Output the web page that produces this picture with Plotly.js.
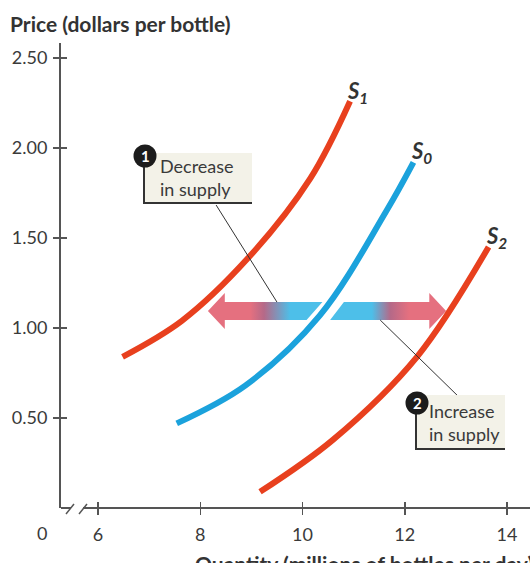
<!DOCTYPE html>
<html>
<head>
<meta charset="utf-8">
<script src="https://cdn.plot.ly/plotly-3.0.1.min.js"></script>
<style>html,body{margin:0;padding:0;background:#fff;}#chart{width:530px;height:563px;}</style>
</head>
<body>
<div id="chart"></div>
<script>
// ---- data ----
const s1Quantity = [6.48, 7.64, 8.94, 10.15, 10.93];
const s1Price    = [0.84, 1.04, 1.39, 1.83, 2.26];
const s0Quantity = [7.54, 8.88, 10.34, 11.64, 12.17];
const s0Price    = [0.47, 0.68, 1.07, 1.65, 1.92];
const s2Quantity = [9.17, 10.60, 12.24, 13.64];
const s2Price    = [0.09, 0.38, 0.84, 1.45];
const xTickVals  = [6, 8, 10, 12, 14];
const xTickText  = ['6', '8', '10', '12', '14'];
const yTickVals  = [0.5, 1.0, 1.5, 2.0, 2.5];
const yTickText  = ['0.50', '1.00', '1.50', '2.00', '2.50'];
const curveLabels = ['S<sub>1</sub>', 'S<sub>0</sub>', 'S<sub>2</sub>'];
const arrowPrice = 1.094;
// decrease arrow: tip, shaft end (top), shaft end (bottom)
const decreaseArrowX = [8.15, 10.39, 10.08];
// increase arrow: shaft start (top), shaft start (bottom), tip
const increaseArrowX = [10.81, 10.54, 12.81];
const decreaseLeader = {x: [8.31, 9.50], y: [1.683, 1.144]};
const increaseLeader = {x: [11.52, 13.12], y: [1.044, 0.60]};

// ---- styling ----
const W = 530, H = 563;
const M = {l: 61, r: 0, t: 43, b: 55};
const PW = W - M.l - M.r, PH = H - M.t - M.b;
const xRange = [5.276, 14.45];
const yRange = [0, 2.583];
const px = p => (p - M.l) / PW;
const py = p => (H - M.b - p) / PH;
const RED = '#e8401e', BLUE = '#1ba2dc', TXT = '#3a3a3a', AX = '#555555';
const FONT = 'Lato, "Open Sans", sans-serif';
const headLen = 0.33, headHalf = 0.1, shaftHalf = 0.05;
const PINK = '#e5707f', MAUVE = '#b56988', LBLUE = '#4dbfe9';

function curve(x, y, color) {
  return {x: x, y: y, type: 'scatter', mode: 'lines',
    line: {color: color, width: 6, shape: 'spline', smoothing: 1.0},
    hoverinfo: 'skip', showlegend: false};
}

const dTip = decreaseArrowX[0], dTop = decreaseArrowX[1], dBot = decreaseArrowX[2];
const decreaseArrow = {
  x: [dTip, dTip + headLen, dTip + headLen, dTop, dBot, dTip + headLen, dTip + headLen, dTip],
  y: [arrowPrice, arrowPrice + headHalf, arrowPrice + shaftHalf, arrowPrice + shaftHalf,
      arrowPrice - shaftHalf, arrowPrice - shaftHalf, arrowPrice - headHalf, arrowPrice],
  type: 'scatter', mode: 'lines', fill: 'toself', line: {width: 0},
  fillgradient: {type: 'horizontal', start: dTip, stop: dTop,
    colorscale: [[0, PINK], [0.37, PINK], [0.49, MAUVE], [0.72, LBLUE], [1, LBLUE]]},
  hoverinfo: 'skip', showlegend: false
};
const iTop = increaseArrowX[0], iBot = increaseArrowX[1], iTip = increaseArrowX[2];
const increaseArrow = {
  x: [iTop, iTip - headLen, iTip - headLen, iTip, iTip - headLen, iTip - headLen, iBot, iTop],
  y: [arrowPrice + shaftHalf, arrowPrice + shaftHalf, arrowPrice + headHalf, arrowPrice,
      arrowPrice - headHalf, arrowPrice - shaftHalf, arrowPrice - shaftHalf, arrowPrice + shaftHalf],
  type: 'scatter', mode: 'lines', fill: 'toself', line: {width: 0},
  fillgradient: {type: 'horizontal', start: iBot, stop: iTip,
    colorscale: [[0, LBLUE], [0.36, LBLUE], [0.52, MAUVE], [0.68, PINK], [1, PINK]]},
  hoverinfo: 'skip', showlegend: false
};

const dummy = {x: [xRange[0]], y: [yRange[0]], xaxis: 'x2', yaxis: 'y2', type: 'scatter',
  mode: 'markers', marker: {opacity: 0}, hoverinfo: 'skip', showlegend: false};

const data = [decreaseArrow, increaseArrow,
  curve(s1Quantity, s1Price, RED), curve(s0Quantity, s0Price, BLUE), curve(s2Quantity, s2Price, RED), dummy];

function pline(x0, y0, x1, y1, w, c) {
  return {type: 'line', xref: 'paper', yref: 'paper', x0: px(x0), y0: py(y0), x1: px(x1), y1: py(y1),
    line: {color: c || AX, width: w || 2}};
}
function prect(x0, y0, x1, y1, fill) {
  return {type: 'rect', xref: 'paper', yref: 'paper', x0: px(x0), y0: py(y0), x1: px(x1), y1: py(y1),
    fillcolor: fill, line: {width: 0}};
}
function pcircle(cx, cy, r) {
  return {type: 'circle', xref: 'paper', yref: 'paper', x0: px(cx - r), y0: py(cy - r), x1: px(cx + r), y1: py(cy + r),
    fillcolor: '#1c1c1c', line: {width: 0}};
}

const shapes = [
  // x axis with break
  pline(61, 508, 71, 508), pline(83, 508, 530, 508),
  pline(66, 514, 74, 504, 1.5), pline(79, 514, 87, 504, 1.5),
  // leader lines
  {type: 'line', xref: 'x', yref: 'y', x0: decreaseLeader.x[0], y0: decreaseLeader.y[0],
    x1: decreaseLeader.x[1], y1: decreaseLeader.y[1], line: {color: '#333', width: 1}},
  {type: 'line', xref: 'x', yref: 'y', x0: increaseLeader.x[0], y0: increaseLeader.y[0],
    x1: increaseLeader.x[1], y1: increaseLeader.y[1], line: {color: '#333', width: 1}},
  // callout boxes
  prect(144, 153, 252, 203, '#f3f2e8'),
  pline(144, 155, 144, 203, 2, '#333'), pline(143, 203, 252, 203, 2, '#333'),
  prect(416, 395, 505, 449, '#f3f2e8'),
  pline(416, 403, 416, 449, 2, '#333'), pline(415, 449, 505, 449, 2, '#333'),
  pcircle(145, 156, 11.5), pcircle(417, 403, 11.5)
];

function pann(text, x, y, opts) {
  return Object.assign({text: text, xref: 'paper', yref: 'paper', x: px(x), y: py(y), showarrow: false,
    font: {family: FONT, size: 18, color: TXT}, xanchor: 'left', yanchor: 'middle', align: 'left'}, opts || {});
}

const annotations = [
  pann('<b>Price (dollars per bottle)</b>', 8, 23, {font: {family: FONT, size: 21, color: '#333'}}),
  pann('<b>Quantity (millions of bottles per day)</b>', 193, 549, {yanchor: 'top', font: {family: FONT, size: 21, color: '#333'}}),
  pann('0', 42, 533, {xanchor: 'center'}),
  pann('Decrease<br>in supply', 158, 177),
  pann('Increase<br>in supply', 427, 422),
  pann('<b>1</b>', 145, 156, {xanchor: 'center', font: {family: FONT, size: 15, color: '#fff'}}),
  pann('<b>2</b>', 417, 403, {xanchor: 'center', font: {family: FONT, size: 15, color: '#fff'}}),
  pann('<b><i>' + curveLabels[0] + '</i></b>', 345, 92, {font: {family: FONT, size: 22, color: '#333'}}),
  pann('<b><i>' + curveLabels[1] + '</i></b>', 409, 152, {font: {family: FONT, size: 22, color: '#333'}}),
  pann('<b><i>' + curveLabels[2] + '</i></b>', 484, 237, {font: {family: FONT, size: 22, color: '#333'}})
];

const axisCommon = {showgrid: false, zeroline: false, fixedrange: true,
  tickcolor: AX, tickwidth: 1.5, ticklen: 6,
  tickfont: {family: FONT, size: 18, color: TXT}};

const layout = {
  width: W, height: H, margin: M, paper_bgcolor: '#fff', plot_bgcolor: '#fff',
  showlegend: false,
  xaxis: Object.assign({}, axisCommon, {range: xRange, tickmode: 'array', tickvals: xTickVals, ticktext: xTickText,
    ticks: 'outside', showline: false, ticklabelstandoff: 4}),
  yaxis: Object.assign({}, axisCommon, {range: yRange, tickmode: 'array', tickvals: yTickVals, ticktext: yTickText,
    ticks: 'outside', showline: true, linecolor: AX, linewidth: 2, ticklabelstandoff: 2}),
  xaxis2: Object.assign({}, axisCommon, {range: xRange, overlaying: 'x', anchor: 'y', side: 'bottom',
    tickmode: 'array', tickvals: xTickVals, ticks: 'inside', showticklabels: false, showline: false}),
  yaxis2: Object.assign({}, axisCommon, {range: yRange, overlaying: 'y', anchor: 'x', side: 'left',
    tickmode: 'array', tickvals: yTickVals, ticks: 'inside', showticklabels: false, showline: false}),
  shapes: shapes,
  annotations: annotations
};

Plotly.newPlot('chart', data, layout, {displayModeBar: false, staticPlot: true});
</script>
</body>
</html>
